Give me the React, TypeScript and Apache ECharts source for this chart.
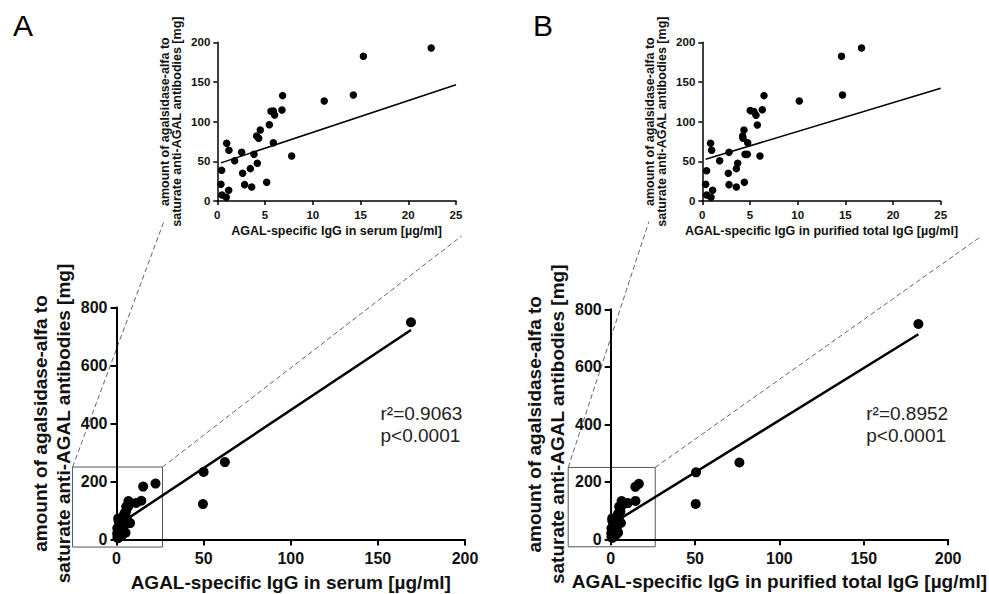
import React, { useEffect, useRef } from "react";
import * as echarts from "echarts";

// Panel A: AGAL-specific IgG in serum [µg/ml] vs amount [mg]
const serumX = [0.45, 0.38, 0.49, 0.94, 0.98, 1.22, 1.19, 1.82, 2.55, 2.65, 2.86, 3.84, 3.46, 3.6, 4.19, 4.12, 4.33, 4.5, 5.17, 5.45, 5.62, 5.87, 6.0, 5.87, 6.77, 6.84, 7.79, 11.2, 14.25, 15.3, 22.4, 50.0, 49.6, 62.2, 169.0];
const serumY = [38.7, 21, 7.6, 4.6, 72.7, 63.9, 13.4, 50.8, 61.3, 34.9, 20.6, 58.8, 40.8, 17.6, 47.5, 81.9, 79, 89.5, 23.5, 96.2, 113, 113.4, 108.4, 73.5, 114.7, 132.8, 56.7, 126, 133.6, 182.4, 192.9, 233, 122, 267, 749];

// Panel B: AGAL-specific IgG in purified total IgG [µg/ml] vs amount [mg]
const purifiedX = [0.45, 0.35, 0.45, 0.91, 0.87, 0.98, 1.08, 1.82, 2.8, 2.73, 2.8, 3.71, 3.57, 3.57, 4.37, 4.23, 4.27, 4.76, 4.41, 4.48, 4.72, 5.03, 5.42, 5.63, 5.77, 6.05, 6.29, 6.47, 10.17, 14.6, 14.7, 16.7, 50.6, 50.4, 76.3, 182.4];
const purifiedY = [38.2, 21, 7.6, 4.6, 72.7, 63.9, 13.4, 50.8, 61.3, 34.9, 20.6, 47.5, 40.8, 17.6, 89.5, 82, 79, 73.5, 23.5, 58.8, 58.8, 113.9, 112.6, 108, 95.8, 56.7, 115, 132.8, 126, 182.4, 133.6, 192.9, 233, 123, 267, 749];

// Linear fits
const fitA = { intercept: 46.5, slope: 4.0 };
const fitB = { intercept: 51.3, slope: 3.63 };

const statsA = ["r²=0.9063", "p<0.0001"];
const statsB = ["r²=0.8952", "p<0.0001"];

const xNameA = "AGAL-specific IgG in serum [µg/ml]";
const xNameB = "AGAL-specific IgG in purified total IgG [µg/ml]";
const yName = "amount of agalsidase-alfa to\nsaturate anti-AGAL antibodies [mg]";

const FONT = "'Liberation Sans', Arial, sans-serif";

function pairs(xs: number[], ys: number[]) {
  return xs.map((x, i) => [x, ys[i]]);
}

function fitLine(fit: { intercept: number; slope: number }, x0: number, x1: number) {
  return [
    [x0, fit.intercept + fit.slope * x0],
    [x1, fit.intercept + fit.slope * x1],
  ];
}

export default function App() {
  const ref = useRef<HTMLDivElement>(null);
  useEffect(() => {
    if (!ref.current) return;
    const chart = echarts.init(ref.current, undefined, { renderer: "svg" });

    const grids = [
      { left: 116.5, top: 307.5, width: 348.5, height: 232 },
      { left: 610.7, top: 309.3, width: 345.3, height: 230 },
      { left: 217.3, top: 42.3, width: 238.7, height: 158.7 },
      { left: 702.3, top: 42.3, width: 238.4, height: 158.7 },
    ];

    const mainAxisCommon = {
      axisLine: { show: true, onZero: false, lineStyle: { color: "#000", width: 2 } },
      axisTick: { show: true, length: 6, lineStyle: { color: "#000", width: 2 } },
      splitLine: { show: false },
      axisLabel: { color: "#111", fontSize: 16, fontWeight: "bold", fontFamily: FONT },
    };
    const insetAxisCommon = {
      axisLine: { show: true, onZero: false, lineStyle: { color: "#000", width: 1.5 } },
      axisTick: { show: true, length: 4, lineStyle: { color: "#000", width: 1.5 } },
      splitLine: { show: false },
      axisLabel: { color: "#111", fontSize: 11.5, fontWeight: "bold", fontFamily: FONT },
    };

    const mainName = { fontSize: 19, fontWeight: "bold", color: "#111", fontFamily: FONT };
    const insetName = { fontSize: 12.5, fontWeight: "bold", color: "#111", fontFamily: FONT };

    const xAxes = [
      { ...mainAxisCommon, gridIndex: 0, type: "value", min: 0, max: 200, interval: 50, name: xNameA,
        nameLocation: "middle", nameGap: 33, nameTextStyle: mainName,
        axisLabel: { ...mainAxisCommon.axisLabel, margin: 11 } },
      { ...mainAxisCommon, gridIndex: 1, type: "value", min: 0, max: 200, interval: 50, name: xNameB,
        nameLocation: "middle", nameGap: 33, nameTextStyle: mainName,
        axisLabel: { ...mainAxisCommon.axisLabel, margin: 11 } },
      { ...insetAxisCommon, gridIndex: 2, type: "value", min: 0, max: 25, interval: 5, name: xNameA,
        nameLocation: "middle", nameGap: 23.5, nameTextStyle: insetName,
        axisLabel: { ...insetAxisCommon.axisLabel, margin: 8 } },
      { ...insetAxisCommon, gridIndex: 3, type: "value", min: 0, max: 25, interval: 5, name: xNameB,
        nameLocation: "middle", nameGap: 23.5, nameTextStyle: insetName,
        axisLabel: { ...insetAxisCommon.axisLabel, margin: 8 } },
    ];

    const yAxes = [0, 1, 2, 3].map((i) => {
      const main = i < 2;
      const common = main ? mainAxisCommon : insetAxisCommon;
      return {
        ...common,
        gridIndex: i,
        type: "value",
        min: 0,
        max: main ? 800 : 200,
        interval: main ? 200 : 50,
        name: yName,
        nameLocation: "middle",
        nameGap: main ? 42 : 34,
        nameTextStyle: main ? { ...mainName, lineHeight: 23 } : { ...insetName, lineHeight: 12.5 },
        axisLabel: { ...common.axisLabel, margin: main ? 9 : 7 },
      };
    });

    const minA = Math.min(...serumX);
    const maxA = Math.max(...serumX);
    const minB = Math.min(...purifiedX);
    const maxB = Math.max(...purifiedX);

    const scatter = (idx: number, data: number[][], size: number) => ({
      type: "scatter",
      xAxisIndex: idx,
      yAxisIndex: idx,
      data,
      symbolSize: size,
      itemStyle: { color: "#000", opacity: 1 },
      clip: false,
      silent: true,
      z: 3,
    });
    const line = (idx: number, data: number[][], w: number) => ({
      type: "line",
      xAxisIndex: idx,
      yAxisIndex: idx,
      data,
      showSymbol: false,
      symbol: "none",
      lineStyle: { color: "#000", width: w },
      silent: true,
      z: 2,
    });

    const inA = pairs(serumX, serumY).filter((p) => p[0] <= 25 && p[1] <= 200);
    const inB = pairs(purifiedX, purifiedY).filter((p) => p[0] <= 25 && p[1] <= 200);

    chart.setOption({
      animation: false,
      backgroundColor: "#fff",
      grid: grids.map((g) => ({ ...g, containLabel: false })),
      xAxis: xAxes,
      yAxis: yAxes,
      series: [
        scatter(0, pairs(serumX, serumY), 10),
        line(0, fitLine(fitA, minA, maxA), 2.5),
        scatter(1, pairs(purifiedX, purifiedY), 10),
        line(1, fitLine(fitB, minB, maxB), 2.5),
        scatter(2, inA, 7.5),
        line(2, fitLine(fitA, minA, 25), 1.5),
        scatter(3, inB, 7.5),
        line(3, fitLine(fitB, minB, 25), 1.5),
      ],
    });

    const px = (i: number, x: number, y: number) =>
      chart.convertToPixel({ xAxisIndex: i, yAxisIndex: i }, [x, y]) as number[];

    const zoomBox = (mainIdx: number, insetIdx: number, rightEnd: number[]) => {
      const tl = px(mainIdx, -25.2, 250);
      const br = px(mainIdx, 26.4, -26);
      const leftEnd = px(insetIdx, -5.6, -26);
      const rEnd = px(insetIdx, rightEnd[0], rightEnd[1]);
      const dash = { stroke: "#666", lineWidth: 1, lineDash: [5, 3] };
      return [
        { type: "rect", shape: { x: tl[0], y: tl[1], width: br[0] - tl[0], height: br[1] - tl[1] },
          style: { fill: "none", stroke: "#555", lineWidth: 1 }, silent: true },
        { type: "line", shape: { x1: tl[0], y1: tl[1], x2: leftEnd[0], y2: leftEnd[1] }, style: dash, silent: true },
        { type: "line", shape: { x1: br[0], y1: tl[1], x2: rEnd[0], y2: rEnd[1] }, style: dash, silent: true },
      ];
    };

    const statText = (idx: number, x: number, lines: string[]) => {
      const p = px(idx, x, 420);
      return {
        type: "text",
        left: p[0],
        top: 402,
        style: { text: lines.join("\n"), fontSize: 19, lineHeight: 22, fill: "#222", fontFamily: FONT },
        silent: true,
      };
    };

    chart.setOption({
      graphic: [
        ...zoomBox(0, 2, [25.6, -44]),
        ...zoomBox(1, 3, [29.3, -44]),
        statText(0, 151.5, statsA),
        statText(1, 151.5, statsB),
        { type: "text", left: 13, top: 10, style: { text: "A", fontSize: 30, fill: "#000", fontFamily: FONT }, silent: true },
        { type: "text", left: 533, top: 10, style: { text: "B", fontSize: 30, fill: "#000", fontFamily: FONT }, silent: true },
      ],
    });

    return () => chart.dispose();
  }, []);

  return (
    <div
      ref={ref}
      style={{ position: "fixed", left: 0, top: 0, width: 989, height: 594, background: "#fff" }}
    />
  );
}
